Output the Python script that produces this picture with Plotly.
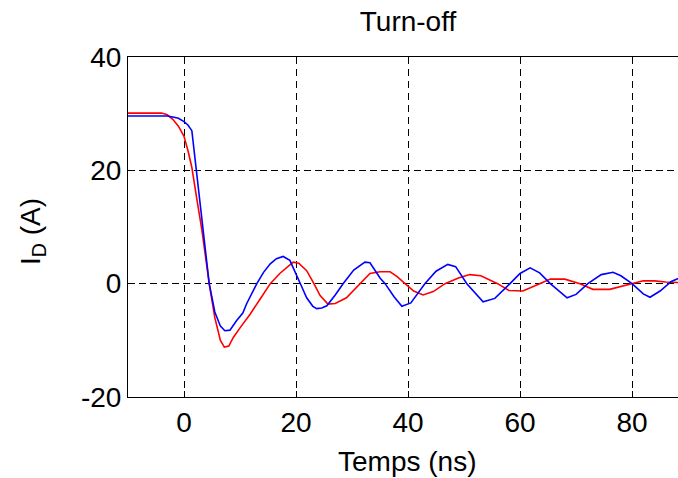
import plotly.graph_objects as go

# Time axis (ns) and drain current (A)
t_red = [-10, -4, -3, -2, -1, 0, 0.7, 1.4, 2.2, 3.2, 4.5, 5.5, 6.5, 7.2, 8, 8.8, 10, 11.8,
         13.6, 15.4, 17.1, 18.5, 19.5, 20.5, 21.9, 23.1, 24.3, 25.7, 27, 29, 31.4, 33.2,
         35, 36.8, 38, 39.5, 41, 42.7, 44.5, 46.6, 49, 51, 53, 56, 58, 60.5, 62, 63.5,
         65.4, 68, 70.7, 73, 76, 78, 80, 82, 84, 86, 88.5]
i_red = [30.1, 30.1, 29.8, 29.0, 27.8, 26.0, 23.5, 20.5, 15.5, 9.4, 0, -6, -10, -11.2,
         -11, -9.5, -7.8, -5.4, -2.7, 0, 1.8, 3.0, 3.8, 3.6, 2.3, 0.2, -2.1, -3.6, -3.5,
         -2.5, 0, 1.8, 2.1, 2.1, 1.3, 0, -1.3, -2.0, -1.4, 0, 1.0, 1.6, 1.4, 0, -1.2,
         -1.3, -0.6, 0, 0.8, 0.8, 0, -1.0, -1.0, -0.5, 0, 0.5, 0.5, 0.3, 0.2]

t_blue = [-10, -3, -2, -1, 0, 0.7, 1.4, 2, 2.6, 3.4, 4.5, 5.5, 6.5, 7.3, 8.2, 9.4, 10.5,
          11.2, 13, 14.2, 15.4, 16.5, 17.7, 18.9, 20.2, 21, 21.9, 23, 23.7, 24.6, 25.5,
          27, 28.4, 30.3, 32.3, 33.2, 35, 35.9, 37.5, 38.9, 40.5, 43, 45, 47.1, 48.5,
          50.5, 53.4, 55.5, 58.2, 60, 61.8, 63.5, 65.4, 68.4, 70, 72.1, 74.5, 76.6, 78,
          80, 82, 83.2, 85, 87, 88.5]
i_blue = [29.6, 29.6, 29.4, 29.2, 28.6, 28, 27, 21.8, 16, 9.4, 0, -5, -7.5, -8.3, -8.2,
          -6.5, -5.2, -3.5, 0, 2, 3.5, 4.4, 4.8, 4.1, 1.4, -0.5, -2.5, -4.0, -4.4, -4.3,
          -3.9, -2.0, 0, 2.4, 3.8, 3.7, 1, 0, -2.3, -4.0, -3.4, 0, 2.2, 3.4, 3.0, 0,
          -3.2, -2.6, 0, 1.8, 2.8, 1.9, 0, -2.5, -1.9, 0, 1.6, 2.0, 1.4, 0, -1.8, -2.4,
          -1.3, 0.4, 1.0]

x_ticks = [0, 20, 40, 60, 80]
x_labels = ["0", "20", "40", "60", "80"]
y_ticks = [-20, 0, 20, 40]
y_labels = ["-20", "0", "20", "40"]

FONT = "Liberation Sans, Arial, Helvetica, sans-serif"
FS = 28

fig = go.Figure()
fig.add_trace(go.Scatter(x=t_red, y=i_red, mode="lines",
                         line=dict(color="#ff0000", width=1.6), showlegend=False))
fig.add_trace(go.Scatter(x=t_blue, y=i_blue, mode="lines",
                         line=dict(color="#0000ff", width=1.6), showlegend=False))

fig.update_layout(
    width=678, height=478,
    margin=dict(l=128, r=0, t=57, b=81, autoexpand=False),
    paper_bgcolor="white", plot_bgcolor="white",
    font=dict(family=FONT, size=FS, color="black"),
    title=dict(text="Turn-off", x=408 / 678, xref="container", xanchor="center",
               y=1 - 21 / 478, yref="container", yanchor="middle", automargin=False,
               font=dict(family=FONT, size=FS, color="black")),
    annotations=[
        dict(text="Temps (ns)", showarrow=False,
             x=(407 - 128) / 550, xref="paper", y=-(461 - 397) / 340, yref="paper",
             xanchor="center", yanchor="middle",
             font=dict(family=FONT, size=FS, color="black")),
        dict(text="I<sub>D</sub> (A)", textangle=-90, showarrow=False,
             x=(33 - 128) / 550, y=0.5 - (232 - 227) / 340,
             xref="paper", yref="paper", xanchor="center", yanchor="middle",
             font=dict(family=FONT, size=FS, color="black")),
    ],
)

fig.update_xaxes(range=[-10, 88.2], tickmode="array", tickvals=x_ticks, ticktext=x_labels,
                 ticks="inside", ticklen=6, automargin=False,
                 tickcolor="black", showline=True, linecolor="black", linewidth=1,
                 mirror=True, showgrid=True, gridcolor="black", gridwidth=1,
                 griddash="7px,5px", zeroline=False,
                 tickfont=dict(family=FONT, size=FS, color="black"))
fig.update_yaxes(range=[-20, 40], tickmode="array", tickvals=y_ticks, ticktext=y_labels,
                 ticks="inside", ticklen=6, automargin=False,
                 tickcolor="black", showline=True, linecolor="black", linewidth=1,
                 mirror=False, showgrid=True, gridcolor="black", gridwidth=1,
                 griddash="7px,4px", zeroline=False,
                 tickfont=dict(family=FONT, size=FS, color="black"))

fig.write_html("out.html",
               config={"displayModeBar": False},
               post_script="document.body.style.margin='0';"
                           "document.body.style.overflow='hidden';")
